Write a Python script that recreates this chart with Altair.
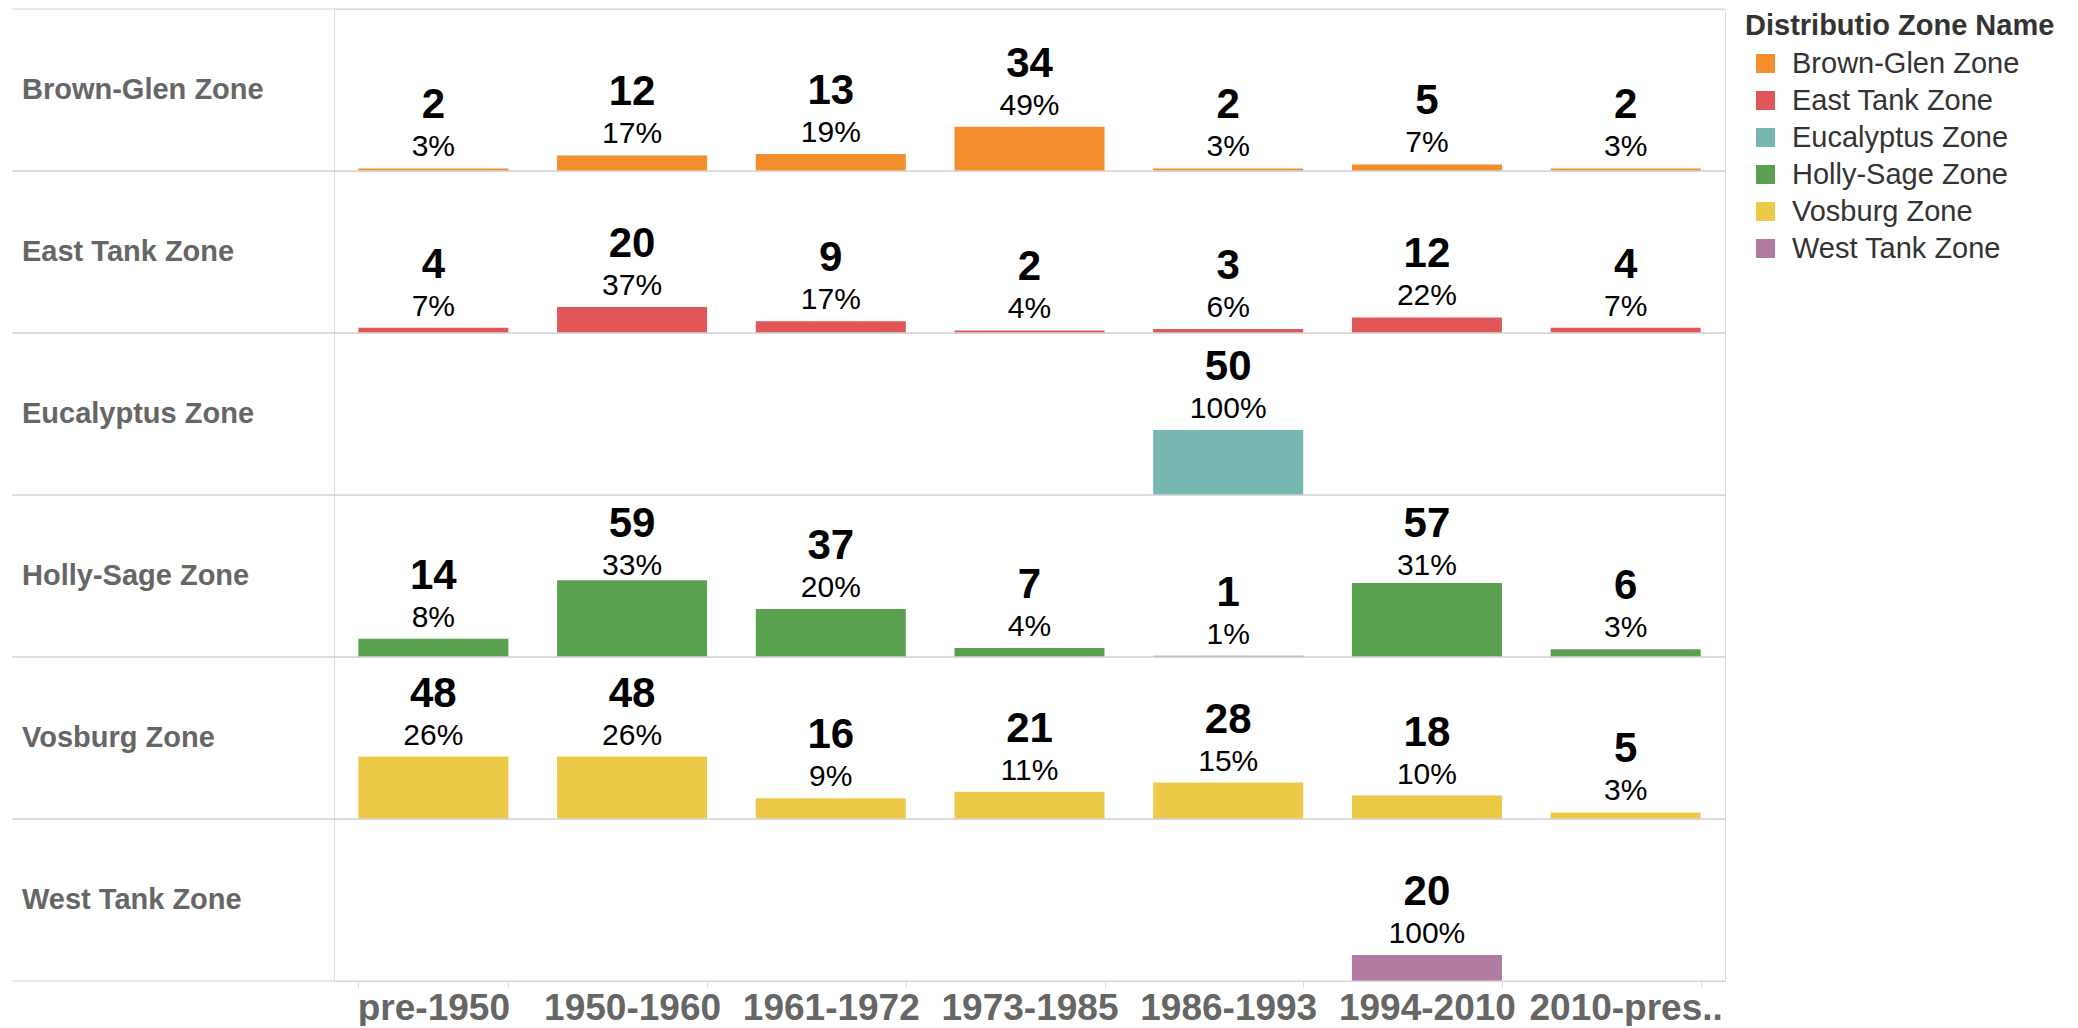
import altair as alt
import pandas as pd

FONT = "Liberation Sans"

periods = ["pre-1950", "1950-1960", "1961-1972", "1973-1985", "1986-1993", "1994-2010", "2010-pres.."]
zones = ["Brown-Glen Zone", "East Tank Zone", "Eucalyptus Zone", "Holly-Sage Zone", "Vosburg Zone", "West Tank Zone"]
zone_colors = ["#F28E2B", "#E15759", "#76B7B2", "#59A14F", "#EDC948", "#B07AA1"]

brown_glen = [2, 12, 13, 34, 2, 5, 2]
east_tank = [4, 20, 9, 2, 3, 12, 4]
eucalyptus = [0, 0, 0, 0, 50, 0, 0]
holly_sage = [14, 59, 37, 7, 1, 57, 6]
vosburg = [48, 48, 16, 21, 28, 18, 5]
west_tank = [0, 0, 0, 0, 0, 20, 0]

series = [brown_glen, east_tank, eucalyptus, holly_sage, vosburg, west_tank]
rows = []
for z, vals in zip(zones, series):
    for p, v in zip(periods, vals):
        if v > 0:
            rows.append({"zone": z, "period": p, "count": v})
df = pd.DataFrame(rows)

PANEL_W = 1391
PANEL_H = 162

x_enc = alt.X(
    "period:N",
    sort=periods,
    scale=alt.Scale(domain=periods, paddingInner=0.245, paddingOuter=0.1225),
    axis=alt.Axis(
        title=None, labelAngle=0, labelFontSize=37, labelFontWeight="bold",
        labelColor="#666666", labelFont=FONT, labelPadding=3, labelLimit=400,
        tickBand="extent", tickColor="#d9d9d9", tickSize=6, domain=False,
    ),
)
y_scale = alt.Scale(domain=[0, 124.6], nice=False)

base = alt.Chart().transform_joinaggregate(
    total="sum(count)", groupby=["zone"]
).transform_calculate(
    pct="datum.count / datum.total",
    lab_y="min(datum.count, 54)",
)

bars = base.mark_bar().encode(
    x=x_enc,
    y=alt.Y(
        "count:Q", scale=y_scale,
        axis=alt.Axis(title=None, values=[50, 100], labels=False, ticks=False,
                      domain=False, grid=True, gridColor="#e2e2e2"),
    ),
    color=alt.Color(
        "zone:N",
        scale=alt.Scale(domain=zones, range=zone_colors),
        legend=alt.Legend(
            title="Distributio Zone Name", titleFont=FONT, titleFontSize=29,
            titleFontWeight="bold", titleColor="#333333", titlePadding=8,
            titleLimit=600, labelLimit=600,
            labelFont=FONT, labelFontSize=29, labelColor="#333333",
            symbolType="square", symbolSize=361, symbolStrokeWidth=0,
            symbolOffset=6, labelOffset=12, rowPadding=7, offset=16, padding=3,
        ),
    ),
)

pct_text = base.mark_text(
    baseline="alphabetic", dy=-12, fontSize=30, font=FONT, color="#000000"
).encode(
    x=x_enc,
    y=alt.Y("lab_y:Q", scale=y_scale, axis=None),
    text=alt.Text("pct:Q", format=".0%"),
)

cnt_text = base.mark_text(
    baseline="alphabetic", dy=-50, fontSize=42, fontWeight="bold", font=FONT, color="#000000"
).encode(
    x=x_enc,
    y=alt.Y("lab_y:Q", scale=y_scale, axis=None),
    text=alt.Text("count:Q"),
)

per_zone = alt.Chart().transform_aggregate(n="count()", groupby=["zone"])

sep_bottom = per_zone.mark_rule(color="#d4d4d4", strokeWidth=1).encode(
    x=alt.value(-322), x2=alt.value(PANEL_W), y=alt.value(PANEL_H)
)
sep_top = per_zone.mark_rule(color="#d4d4d4", strokeWidth=1).encode(
    x=alt.value(-322), x2=alt.value(PANEL_W), y=alt.value(0)
)
zone_label = per_zone.mark_text(
    align="left", baseline="middle", font=FONT, fontSize=29, fontWeight="bold", color="#666666"
).encode(
    x=alt.value(-312), y=alt.value(PANEL_H / 2), text="zone:N"
)

layered = alt.layer(bars, pct_text, cnt_text, sep_bottom, sep_top, zone_label, data=df).properties(
    width=PANEL_W, height=PANEL_H
)

chart = layered.facet(
    row=alt.Row(
        "zone:N", sort=zones,
        header=alt.Header(title=None, labels=False),
    ),
    spacing=0,
    bounds="flush",
).properties(
    padding={"left": 3, "top": 0, "right": 10, "bottom": 0}
).configure_view(
    stroke="#d4d4d4", strokeWidth=1
).configure(
    background="white"
)

chart.save("out.html", embed_options={"renderer": "svg", "actions": False})
